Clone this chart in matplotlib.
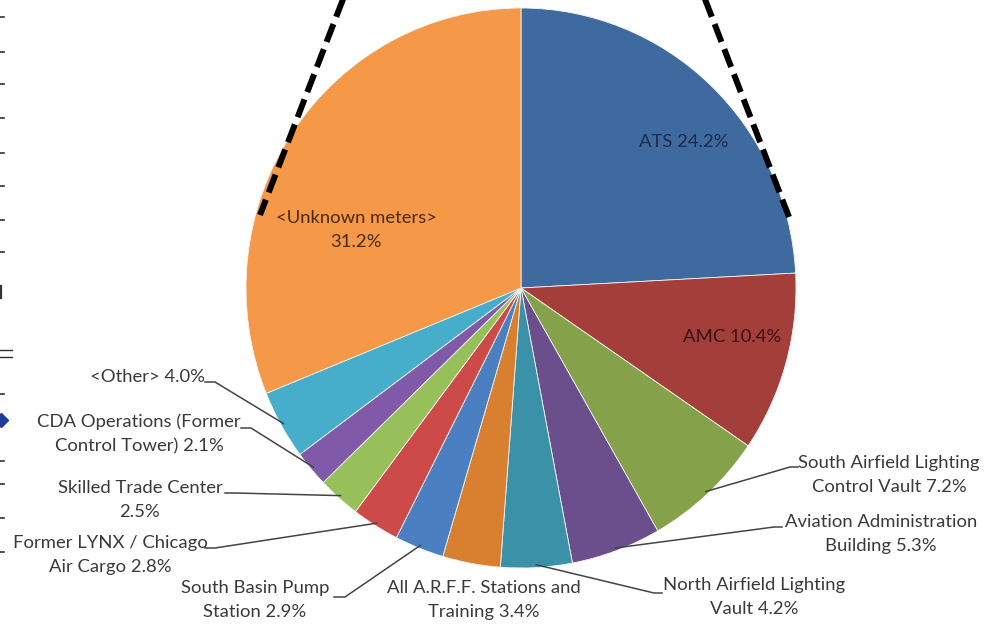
import numpy as np
import matplotlib.pyplot as plt
from matplotlib.lines import Line2D

plt.rcParams['font.family'] = ['Lato', 'DejaVu Sans']

# electricity use by meter group, share of total (%)
names = ['ATS', 'AMC', 'South Airfield Lighting\nControl Vault',
         'Aviation Administration\nBuilding', 'North Airfield Lighting\nVault',
         'All A.R.F.F. Stations and\nTraining', 'South Basin Pump\nStation',
         'Former LYNX / Chicago\nAir Cargo', 'Skilled Trade Center\n',
         'CDA Operations (Former\nControl Tower)', '<Other>', '<Unknown meters>\n']
shares = [24.2, 10.4, 7.2, 5.3, 4.2, 3.4, 2.9, 2.8, 2.5, 2.1, 4.0, 31.2]
colors = ['#3e6aa0', '#a33e3b', '#85a24a', '#6b4e8c', '#3a91a8', '#d97f30',
          '#4a80c2', '#cc4a48', '#98c05a', '#8059a8', '#46adcb', '#f59848']

W, H = 985, 626
cx, cy, rx, ry = 521, 288, 275, 280   # pie box in pixels


def to_data(px, py):
    return (px - cx) / rx, (cy - py) / ry


fig = plt.figure(figsize=(W / 100, H / 100), dpi=100)
ax = fig.add_axes([(cx - rx) / W, (H - cy - ry) / H, 2 * rx / W, 2 * ry / H])
wedges, _ = ax.pie(shares, colors=colors, startangle=90, counterclock=False,
                   radius=1, wedgeprops=dict(edgecolor='#f4f4f4', linewidth=0.6))
ax.set_aspect('auto')
ax.set_xlim(-1, 1)
ax.set_ylim(-1, 1)
ax.axis('off')

# label text centre, and end/elbow of the leader line (pixels); None = label inside the pie
layout = [
    ((684, 142), None, '#1c2b4a'),
    ((732, 337), None, '#3a1010'),
    ((889, 475), ((798, 467), (790, 467)), '#3a3a3a'),
    ((881, 534), ((782, 527), (774, 527)), '#3a3a3a'),
    ((754, 597), ((662, 593), (654, 593)), '#3a3a3a'),
    ((484, 600), 'free', '#3a3a3a'),
    ((255, 600), ((334, 597), (345, 597)), '#3a3a3a'),
    ((110, 555), ((205, 548), (215, 548)), '#3a3a3a'),
    ((140, 500), ((225, 493), (235, 493)), '#3a3a3a'),
    ((139, 434), ((241, 428), (251, 428)), '#3a3a3a'),
    ((147, 377), ((205, 382), (215, 382)), '#3a3a3a'),
    ((356, 230), None, '#4a2a0a'),
]

for w, name, share, (pos, leader, tc) in zip(wedges, names, shares, layout):
    if name.endswith('\n'):
        label = name + f'{share:.1f}%'
    elif '\n' in name:
        label = name + f' {share:.1f}%'
    else:
        label = f'{name} {share:.1f}%'
    tx, ty = to_data(*pos)
    ax.text(tx, ty, label, ha='center', va='center', fontsize=13.3, color=tc,
            linespacing=1.65, clip_on=False)
    if isinstance(leader, tuple):
        mid = np.deg2rad((w.theta1 + w.theta2) / 2)
        ax_, ay_ = 0.99 * np.cos(mid), 0.99 * np.sin(mid)
        (x0, y0), (x1, y1) = to_data(*leader[0]), to_data(*leader[1])
        ax.plot([x0, x1, ax_], [y0, y1, ay_], color='#444444', lw=1.1,
                clip_on=False, solid_joinstyle='miter')


def fx(px):
    return px / W


def fy(py):
    return 1 - py / H


# dashed zoom lines running off the top of the pie
for (x0, y0), (x1, y1) in [((345, -6), (260, 215)), ((703, -6), (789, 217))]:
    fig.add_artist(Line2D([fx(x0), fx(x1)], [fy(y0), fy(y1)], color='black',
                          lw=4.3, dashes=(3.2, 1.3), dash_capstyle='butt'))

# bits of the neighbouring panel cut off at the left edge
for y in [17, 52, 84, 118, 153, 186, 220, 252, 394, 461, 484, 518, 552]:
    fig.add_artist(Line2D([fx(0), fx(4)], [fy(y), fy(y)], color='#333333', lw=1.2))
fig.add_artist(Line2D([fx(1), fx(1)], [fy(286), fy(298)], color='#333333', lw=1.6))
for y in [350, 357]:
    fig.add_artist(Line2D([fx(0), fx(12)], [fy(y), fy(y)], color='#333333', lw=1.0))
fig.add_artist(Line2D([fx(1)], [fy(420)], marker='D', markersize=7,
                      color='#1f3c99', lw=0))

fig.savefig('out.png', dpi=100)
